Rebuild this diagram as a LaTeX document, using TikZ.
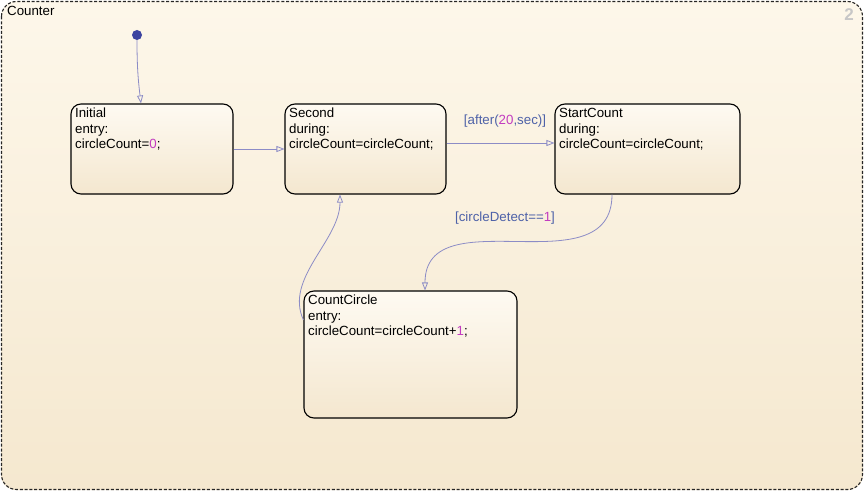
\documentclass[tikz,border=0pt]{standalone}
\usepackage{fontspec}
\setmainfont{Liberation Sans}
\usepackage{xcolor}
\usepackage{tikz}
\usetikzlibrary{arrows.meta}

\definecolor{chartop}{HTML}{FDF7EA}
\definecolor{chartbot}{HTML}{F5E8CF}
\definecolor{statetop}{HTML}{FEFAF2}
\definecolor{statebot}{HTML}{F4E7CF}
\definecolor{transline}{HTML}{8C8CC6}
\definecolor{guardblue}{HTML}{4E62A8}
\definecolor{numpink}{HTML}{C23CC0}
\definecolor{dotblue}{HTML}{3C44A0}

\newcommand{\numval}[1]{\textcolor{numpink}{#1}}

\tikzset{
  chartstate/.style={draw=black, line width=1.1pt, rounded corners=10pt,
    top color=statetop, bottom color=statebot},
  statetext/.style={anchor=north west, align=left, inner xsep=4.5pt, inner ysep=4.5pt,
    font=\fontsize{13.3}{15.6}\selectfont},
  trans/.style={draw=transline, line width=0.8pt,
    -{Triangle[open, length=8pt, width=6pt]}},
  guard/.style={text=guardblue, font=\fontsize{13.3}{15.6}\selectfont, inner sep=1pt}
}

\begin{document}
\begin{tikzpicture}[x=1pt,y=-1pt]
      \useasboundingbox (0,0) rectangle (865,492);
      % chart frame
      \shade[top color=chartop, bottom color=chartbot, rounded corners=15pt]
        (1,1) rectangle (863,490);
      \draw[dash pattern=on 3pt off 1.8pt, line width=1.1pt, draw=black!85, rounded corners=15pt]
        (1.5,1.5) rectangle (862.5,489.5);
      \node[anchor=north west, inner sep=0pt, font=\fontsize{13.3}{15.6}\selectfont] (chartname) at (7,6.5) {Counter};
      \node[anchor=north east, inner sep=0pt, text=black!22, font=\fontsize{17}{17}\bfseries] (chartnum) at (854,8) {2};
      % states
      \node[chartstate, minimum width=162pt, minimum height=90pt] (Initial) at (152,149) {};
      \node[chartstate, minimum width=161pt, minimum height=90pt] (Second) at (365.5,149) {};
      \node[chartstate, minimum width=185pt, minimum height=90pt] (StartCount) at (647.5,149) {};
      \node[chartstate, minimum width=213pt, minimum height=127pt] (CountCircle) at (410.5,354.5) {};
      % state labels
      \node[statetext] at (Initial.north west) {Initial\\entry:\\circleCount=\numval{0};};
      \node[statetext] at (Second.north west) {Second\\during:\\circleCount=circleCount;};
      \node[statetext] at (StartCount.north west) {StartCount\\during:\\circleCount=circleCount;};
      \node[statetext] at (CountCircle.north west) {CountCircle\\entry:\\circleCount=circleCount+\numval{1};};
      % default transition
      \node[circle, fill=dotblue, inner sep=0pt, minimum size=10pt] (dot) at (137,35) {};
      \draw[trans] (dot) to[out=-90, in=97] ([xshift=-11pt]Initial.north);
      % transitions
      \draw[trans] (Initial.east) -- (Second.west);
      \draw[trans] ([yshift=6pt]Second.east) -- ([yshift=6pt]StartCount.west);
      \draw[trans] ([xshift=-35.5pt]StartCount.south) to[out=-90, in=90, looseness=1.15]
        ([xshift=14.5pt]CountCircle.north);
      \draw[trans] ([yshift=34.5pt]CountCircle.west) to[out=115, in=-90, looseness=0.9]
        ([xshift=-25.5pt]Second.south);
      % guards
      \node[guard] (afterguard) at (505,121) {[after(\numval{20},sec)]};
      \node[guard] (detectguard) at (505,218) {[circleDetect==\numval{1}]};
    \end{tikzpicture}
\end{document}
